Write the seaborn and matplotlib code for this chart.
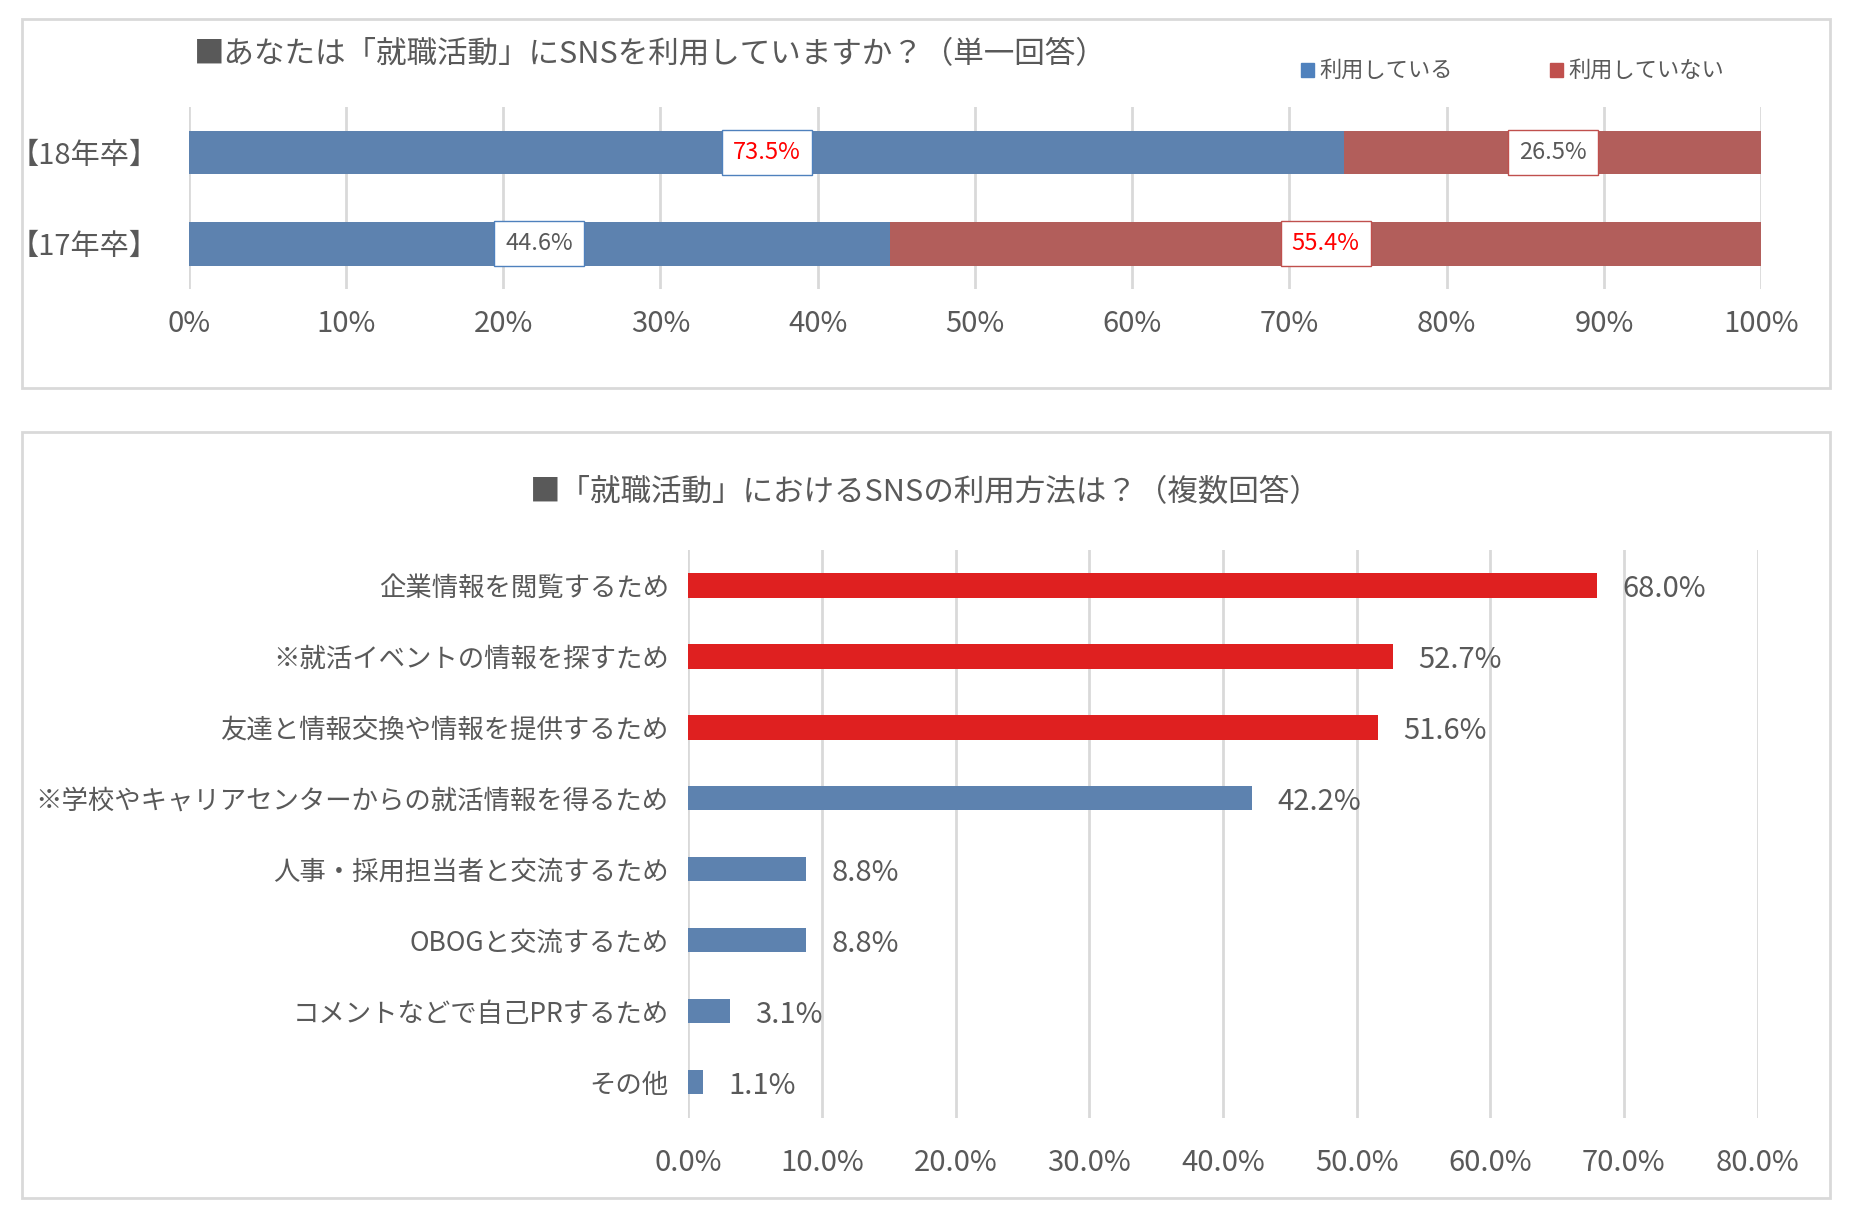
import pandas as pd
import seaborn as sns
import matplotlib.pyplot as plt
from matplotlib.patches import Rectangle

plt.rcParams['font.family'] = 'Noto Sans CJK JP'

years = ['【18年卒】', '【17年卒】']
use_yes = [73.5, 44.6]
use_no = [26.5, 55.4]

methods = ['企業情報を閲覧するため', '※就活イベントの情報を探すため', '友達と情報交換や情報を提供するため',
           '※学校やキャリアセンターからの就活情報を得るため', '人事・採用担当者と交流するため',
           'OBOGと交流するため', 'コメントなどで自己PRするため', 'その他']
method_vals = [68.0, 52.7, 51.6, 42.2, 8.8, 8.8, 3.1, 1.1]

BLUE = '#4F81BD'
RED = '#C0504D'
GRAY = '#595959'

fig = plt.figure(figsize=(18.5, 12.16), dpi=100)
for y0, h in [(0.681, 0.303), (0.015, 0.63)]:
    fig.patches.append(Rectangle((0.012, y0), 0.977, h, transform=fig.transFigure,
                                 fill=False, ec='#D9D9D9', lw=2))

# top chart
ax1 = fig.add_axes([0.102, 0.762, 0.85, 0.15])
df1 = pd.DataFrame({'year': years, 'yes': use_yes, 'total': [a + b for a, b in zip(use_yes, use_no)]})
sns.barplot(data=df1, y='year', x='total', color=RED, width=0.48, ax=ax1, zorder=2)
sns.barplot(data=df1, y='year', x='yes', color=BLUE, width=0.48, ax=ax1, zorder=2)
ax1.set_xlim(0, 100)
ax1.set_xticks(range(0, 101, 10))
ax1.set_xticklabels([f'{v}%' for v in range(0, 101, 10)])
ax1.grid(axis='x', color='#D9D9D9', lw=2, zorder=0)
ax1.set_axisbelow(True)
for i, (a, b) in enumerate(zip(use_yes, use_no)):
    ca = 'red' if a > b else GRAY
    cb = 'red' if b > a else GRAY
    ax1.text(a / 2, i, f'{a}%', ha='center', va='center', fontsize=17, color=ca, zorder=5,
             bbox=dict(fc='white', ec=BLUE, pad=8))
    ax1.text(a + b / 2, i, f'{b}%', ha='center', va='center', fontsize=17, color=cb, zorder=5,
             bbox=dict(fc='white', ec=RED, pad=8))
ax1.set_xlabel('')
ax1.set_ylabel('')
for s in ax1.spines.values():
    s.set_visible(False)
ax1.tick_params(length=0, labelsize=21, colors=GRAY, pad=14)
ax1.tick_params(axis='y', labelsize=21, pad=22)
fig.text(0.105, 0.955, '■あなたは「就職活動」にSNSを利用していますか？（単一回答）', fontsize=22, color=GRAY, va='center')
fig.patches.append(Rectangle((0.703, 0.937), 0.007, 0.011, transform=fig.transFigure, color=BLUE))
fig.text(0.713, 0.942, '利用している', fontsize=16, color=GRAY, va='center')
fig.patches.append(Rectangle((0.838, 0.937), 0.007, 0.011, transform=fig.transFigure, color=RED))
fig.text(0.848, 0.942, '利用していない', fontsize=16, color=GRAY, va='center')

# bottom chart
ax2 = fig.add_axes([0.372, 0.081, 0.578, 0.467])
df2 = pd.DataFrame({'method': methods, 'val': method_vals})
pal = ['#FF0000'] * 3 + [BLUE] * 5
sns.barplot(data=df2, y='method', x='val', hue='method', palette=pal, legend=False,
            width=0.35, ax=ax2, zorder=2)
ax2.set_xlim(0, 80)
ax2.set_ylim(7.5, -0.5)
ax2.set_xticks(range(0, 81, 10))
ax2.set_xticklabels([f'{v:.1f}%' for v in range(0, 81, 10)])
ax2.grid(axis='x', color='#D9D9D9', lw=2, zorder=0)
ax2.set_axisbelow(True)
for i, v in enumerate(method_vals):
    ax2.text(v + 1.9, i + 0.05, f'{v}%', va='center', fontsize=21, color=GRAY)
ax2.set_xlabel('')
ax2.set_ylabel('')
for s in ax2.spines.values():
    s.set_visible(False)
ax2.tick_params(length=0, labelsize=19, colors=GRAY, pad=14)
ax2.tick_params(axis='x', labelsize=21, pad=22)
fig.text(0.5, 0.595, '■「就職活動」におけるSNSの利用方法は？（複数回答）', fontsize=22, color=GRAY,
         ha='center', va='center')

fig.savefig('out.png', dpi=100)
